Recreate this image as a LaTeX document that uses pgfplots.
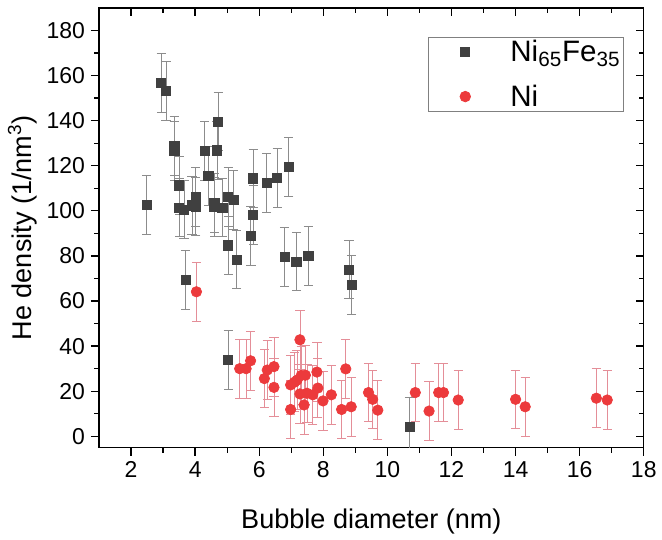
\documentclass[border=0pt]{standalone}
\usepackage{fontspec}
\setmainfont{Liberation Sans}
\usepackage{pgfplots}
\pgfplotsset{compat=1.18}
\usepackage{pgfplotstable}

\definecolor{sqfill}{HTML}{404040}
\definecolor{sqerr}{HTML}{8C8C8C}
\definecolor{cired}{HTML}{EC3A3C}
\definecolor{cierr}{HTML}{E48E98}

% Ni65Fe35
\pgfplotstableread{
x     y      e
2.49  102.5  13
2.94  156.6  13
3.09  153.3  13
3.35  128.7  13
3.35  126.5  13
3.50  111.3  13
3.50  101.5  13
3.65  100.6  13
3.70  69.4   13
3.90  102.4  13
4.02  101.9  13
4.02  106.3  13
4.30  126.6  13
4.41  115.5  13
4.60  103.6  13
4.60  101.8  13
4.68  126.8  13
4.72  139.6  13
4.85  101.5  13
5.03  106.3  13
5.20  104.9  13
5.03  84.7   13
5.29  78.4   13
5.03  33.8   13
5.74  88.9   13
5.81  114.4  13
5.81  98.1   13
6.23  112.5  13
6.56  114.6  13
6.79  79.5   13
6.92  119.4  13
7.16  77.5   13
7.53  79.9   13
8.80  74.0   13
8.88  67.1   13
10.69 4.1    13
}\nife

% Ni
\pgfplotstableread{
x     y     e
4.04  64.1  13
5.39  30.0  13
5.59  30.0  13
5.73  33.5  13
6.16  25.6  13
6.25  29.4  13
6.46  30.9  13
6.46  21.7  13
6.98  11.9  13
6.98  22.8  13
7.10  24.0  13
7.18  24.9  13
7.27  42.8  13
7.27  18.8  13
7.31  27.0  13
7.40  13.9  13
7.44  27.1  13
7.49  19.1  13
7.67  18.4  13
7.80  28.5  13
7.83  21.4  13
7.99  15.7  13
8.25  18.4  13
8.57  11.9  13
8.70  29.9  13
8.87  13.1  13
9.41  19.4  13
9.54  16.4  13
9.70  11.6  13
10.87 19.4  13
11.30 11.2  13
11.60 19.4  13
11.75 19.4  13
12.21 16.1  13
14.00 16.4  13
14.30 13.1  13
16.52 16.9  13
16.86 16.1  13
}\ni

\begin{document}
\begin{tikzpicture}
\pgfplotsset{
  common/.style={
    scale only axis,
    width=332pt, height=268pt,
    xmin=1, xmax=18, ymin=-5, ymax=190,
    xtick={2,4,...,18}, ytick={0,20,...,180},
    minor x tick num=1, minor y tick num=1,
    axis line style={line width=0.9pt},
    major tick length=5pt, minor tick length=3pt,
    every tick/.style={black, line width=0.8pt},
  },
}
% mirrored ticks on the right and top, pointing inwards
\begin{axis}[common, overlay, tick pos=right, tick align=inside,
  xticklabels={}, yticklabels={}]
\end{axis}
\begin{axis}[common, name=main, tick pos=left, tick align=outside,
  /pgf/number format/assume math mode=true,
  ticklabel style={font=\fontsize{14}{16}\selectfont},
  label style={font=\fontsize{16.5}{19}\selectfont},
  xlabel={Bubble diameter (nm)},
  ylabel={He density (1/nm\textsuperscript{3})},
  xlabel style={yshift=-12pt},
  ylabel style={yshift=-1pt},
  legend cell align=left,
  legend image code/.code={%
    \path[draw=none] (-21.5pt,0pt) (26.5pt,0pt);
    \draw[#1] plot coordinates {(0pt,0pt)};},
  legend style={at={(1,1)}, anchor=north east, xshift=-12pt, yshift=-17.5pt,
    draw=gray, line width=0.5pt, font=\fontsize{18}{21}\selectfont,
    inner xsep=1pt, inner ysep=0pt, row sep=8.5pt,
    nodes={inner xsep=1pt}},
]
\addplot[only marks, mark=square*, mark size=2.8pt,
  mark options={draw=sqfill, fill=sqfill},
  error bars/.cd, y dir=both, y explicit,
  error bar style={sqerr, line width=0.5pt},
  error mark options={sqerr, line width=0.5pt, mark size=2.8pt, rotate=90}]
  table[x=x, y=y, y error=e] {\nife};
\addlegendentry{Ni\textsubscript{65}Fe\textsubscript{35}}
\addplot[only marks, mark=*, mark size=3.2pt,
  mark options={draw=cired, fill=cired},
  error bars/.cd, y dir=both, y explicit,
  error bar style={cierr, line width=0.5pt},
  error mark options={cierr, line width=0.5pt, mark size=2.8pt, rotate=90}]
  table[x=x, y=y, y error=e] {\ni};
\addlegendentry{Ni}
\end{axis}
% white margin of the reference above the axis and left of the label
\path (main.north) ++(0,4.8pt);
\path (main.outer west) ++(-1.5pt,0);
\end{tikzpicture}
\end{document}
